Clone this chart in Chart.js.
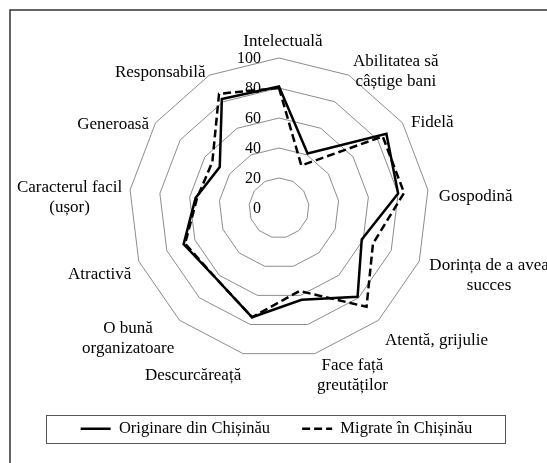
<!DOCTYPE html>
<html>
<head>
<meta charset="utf-8">
<script src="https://cdn.jsdelivr.net/npm/chart.js@4/dist/chart.umd.min.js"></script>
<style>
html,body{margin:0;padding:0;background:#fff;}
#wrap{position:relative;width:547px;height:463px;}
canvas{display:block;}
</style>
</head>
<body>
<div id="wrap"><canvas id="c" width="547" height="463"></canvas></div>
<script>
// ---------- DATA ----------
const categories = [
  ['Intelectuală'],
  ['Abilitatea să', 'câștige bani'],
  ['Fidelă'],
  ['Gospodină'],
  ['Dorința de a avea', 'succes'],
  ['Atentă, grijulie'],
  ['Face față', 'greutăților'],
  ['Descurcăreață'],
  ['O bună', 'organizatoare'],
  ['Atractivă'],
  ['Caracterul facil', '(ușor)'],
  ['Generoasă'],
  ['Responsabilă']
];
const originare = [81, 41, 87, 80, 59, 79, 63, 75, 63, 68, 56, 48, 82];
const migrate   = [80, 32, 84, 84, 67, 88, 57, 75, 63, 67, 55, 54, 86];
const seriesNames = ['Originare din Chișinău', 'Migrate în Chișinău'];
const tickLabels = ['0', '20', '40', '60', '80', '100'];

// ---------- LAYOUT / STYLE ----------
const FONT = '"Liberation Serif", "Times New Roman", serif';
const TARGET = {cx: 279, cy: 208, r: 150};

function placeScale(s) {
  const k = s.drawingArea - TARGET.r;
  if (k <= 0) return;
  const dx = TARGET.cx - s.xCenter, dy = TARGET.cy - s.yCenter;
  let l = k, r = k, t = k, b = k;
  if (dx < 0) l = k + 2 * dx; else r = k - 2 * dx;
  if (dy < 0) t = k + 2 * dy; else b = k - 2 * dy;
  s.setCenterPoint(l, r, t, b);
}

const decor = {
  id: 'decor',
  afterLayout(chart) { placeScale(chart.scales.r); },
  beforeDraw(chart) {
    const ctx = chart.ctx;
    ctx.save();
    ctx.fillStyle = '#fff';
    ctx.fillRect(0, 0, chart.width, chart.height);
    ctx.strokeStyle = '#333';
    ctx.lineWidth = 1.5;
    ctx.strokeRect(10, 10, 560, 470);
    ctx.restore();
  },
  beforeDatasetsDraw(chart) {
    const s = chart.scales.r, ctx = chart.ctx;
    ctx.save();
    // tick labels, left of the vertical axis
    ctx.font = '16px ' + FONT;
    ctx.fillStyle = '#000';
    ctx.textAlign = 'right';
    ctx.textBaseline = 'middle';
    s.ticks.forEach((t, i) => {
      const d = s.getDistanceFromCenterForValue(t.value);
      ctx.fillText(tickLabels[i], s.xCenter - 18, s.yCenter - d + 1);
    });
    // category labels
    ctx.font = '17px ' + FONT;
    ctx.textAlign = 'center';
    const LH = 20;
    categories.forEach((lines, i) => {
      const a = s.getIndexAngle(i);
      const sn = Math.sin(a), cs = Math.cos(a);
      const p = s.getPointPosition(i, s.drawingArea + 8 + 3 * Math.max(0, sn));
      const w = Math.max(...lines.map(t => ctx.measureText(t).width));
      const h = lines.length * LH;
      let cx, cy;
      if (Math.abs(sn) < 0.05) {
        cx = p.x + 4;
        cy = cs > 0 ? p.y + 2 - h / 2 : p.y + h / 2;
      } else {
        cx = sn > 0 ? p.x + w / 2 : p.x - w / 2;
        cy = p.y + 9 - 5 * cs;
      }
      lines.forEach((t, j) => ctx.fillText(t, cx, cy - h / 2 + LH * (j + 0.5)));
    });
    ctx.restore();
  },
  afterDraw(chart) {
    const lg = chart.legend, ctx = chart.ctx;
    if (!lg || !lg.legendHitBoxes || !lg.legendHitBoxes.length) return;
    const hb = lg.legendHitBoxes;
    const first = hb[0], last = hb[hb.length - 1];
    const x0 = first.left - 35, x1 = last.left + last.width + 32;
    const y0 = first.top - 5.5, y1 = first.top + first.height + 5.5;
    ctx.save();
    ctx.strokeStyle = '#555';
    ctx.lineWidth = 1;
    ctx.strokeRect(Math.round(x0) + 0.5, Math.round(y0) + 0.5, Math.round(x1 - x0), Math.round(y1 - y0));
    ctx.restore();
  }
};

new Chart(document.getElementById('c'), {
  type: 'radar',
  data: {
    labels: categories,
    datasets: [
      {label: seriesNames[0], data: originare, borderColor: '#000', backgroundColor: '#000',
       borderWidth: 2.5, fill: false, pointRadius: 0, pointHoverRadius: 0, tension: 0},
      {label: seriesNames[1], data: migrate, borderColor: '#000', backgroundColor: '#000',
       borderWidth: 2.5, borderDash: [8, 4], fill: false, pointRadius: 0, pointHoverRadius: 0, tension: 0}
    ]
  },
  options: {
    responsive: false,
    devicePixelRatio: 1,
    animation: false,
    layout: {padding: {left: 6, right: 0, top: 0, bottom: 16}},
    plugins: {
      legend: {
        position: 'bottom',
        labels: {
          usePointStyle: true,
          pointStyle: 'line',
          pointStyleWidth: 30,
          padding: 32,
          color: '#000',
          font: {family: FONT, size: 16.5},
          generateLabels(chart) {
            const items = Chart.defaults.plugins.legend.labels.generateLabels(chart);
            items.forEach(it => {
              const ds = chart.data.datasets[it.datasetIndex];
              it.lineDash = ds.borderDash || [];
              it.lineWidth = ds.borderWidth;
              it.strokeStyle = ds.borderColor;
              it.fillStyle = ds.borderColor;
              it.pointStyle = 'line';
            });
            return items;
          }
        }
      },
      tooltip: {enabled: false}
    },
    scales: {
      r: {
        min: 0,
        max: 100,
        ticks: {stepSize: 20, display: false, callback: (v, i) => tickLabels[i]},
        grid: {color: '#8c8c8c', lineWidth: 1, circular: false},
        angleLines: {display: false},
        pointLabels: {display: false}
      }
    }
  },
  plugins: [decor]
});
</script>
</body>
</html>
